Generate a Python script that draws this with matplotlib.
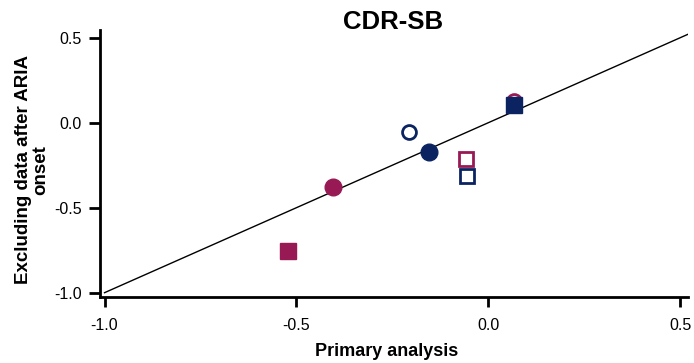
import matplotlib
matplotlib.use("Agg")
import matplotlib.pyplot as plt

plt.rcParams['font.family'] = ['Liberation Sans', 'DejaVu Sans']

MAROON = "#981a55"
NAVY = "#0b2461"

# (primary, excluding-after-ARIA)
maroon_sq_fill = ([-0.523], [-0.754])
maroon_ci_fill = ([-0.404], [-0.380])
navy_ci_open = ([-0.206], [-0.053])
navy_ci_fill = ([-0.154], [-0.170])
maroon_sq_open = ([-0.057], [-0.216])
navy_sq_open = ([-0.055], [-0.316])
maroon_ci_open = ([0.068], [0.129])
navy_sq_fill = ([0.068], [0.105])

ticks = [-1.0, -0.5, 0.0, 0.5]
tick_labels = ["-1.0", "-0.5", "0.0", "0.5"]

fig = plt.figure(figsize=(6.94, 3.63), dpi=100)
ax = fig.add_axes([0.144, 0.182, 0.847, 0.735])

ax.plot([-1.0, 0.55], [-1.0, 0.55], color="black", lw=1, zorder=1)

ms = 12
ax.plot(*maroon_sq_fill, "s", ms=ms, color=MAROON, zorder=3)
ax.plot(*maroon_ci_fill, "o", ms=ms, color=MAROON, zorder=3)
ax.plot(*navy_ci_open, "o", ms=ms - 2, mfc="white", mec=NAVY, mew=2, zorder=3)
ax.plot(*navy_ci_fill, "o", ms=ms, color=NAVY, zorder=3)
ax.plot(*maroon_sq_open, "s", ms=ms - 2, mfc="white", mec=MAROON, mew=2, zorder=3)
ax.plot(*navy_sq_open, "s", ms=ms - 2, mfc="white", mec=NAVY, mew=2, zorder=3)
ax.plot(*maroon_ci_open, "o", ms=ms - 2, mfc="white", mec=MAROON, mew=2, zorder=3)
ax.plot(*navy_sq_fill, "s", ms=ms, color=NAVY, zorder=4)

ax.set_xlim(-1.012, 0.52)
ax.set_ylim(-1.025, 0.545)
ax.set_xticks(ticks)
ax.set_xticklabels(tick_labels)
ax.set_yticks(ticks)
ax.set_yticklabels(tick_labels)
ax.tick_params(width=2, labelsize=11.5)
ax.tick_params(axis="x", length=7, pad=8)
ax.tick_params(axis="y", length=8, pad=5)
for s in ["top", "right"]:
    ax.spines[s].set_visible(False)
for s in ["left", "bottom"]:
    ax.spines[s].set_linewidth(2)

fig.text(0.567, 1 - 22 / 363, "CDR-SB", fontsize=18.5, fontweight="bold",
         ha="center", va="center")
fig.text(387 / 694, 1 - 352 / 363, "Primary analysis", fontsize=13,
         fontweight="bold", ha="center", va="center")
fig.text(32 / 694, 1 - 170 / 363, "Excluding data after ARIA\nonset", fontsize=13.5,
         fontweight="bold", ha="center", va="center", rotation=90,
         multialignment="center", linespacing=1.0)

fig.savefig("out.png", dpi=100)
